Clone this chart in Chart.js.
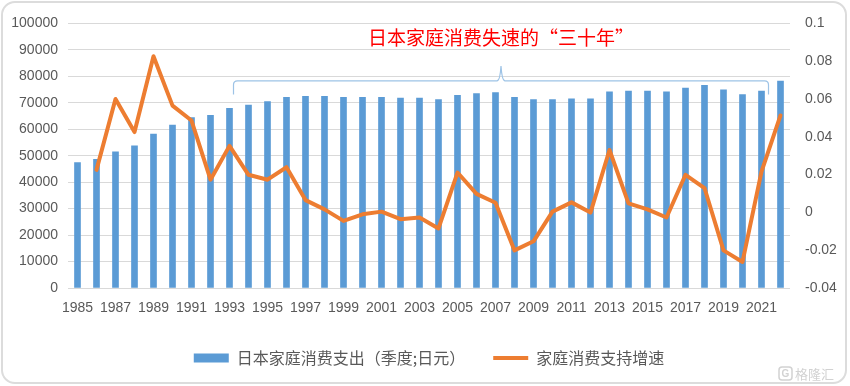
<!DOCTYPE html>
<html><head><meta charset="utf-8">
<script src="https://cdn.jsdelivr.net/npm/chart.js@4"></script>
<style>
html,body{margin:0;padding:0;background:#fff;}
#wrap{position:relative;width:850px;height:386px;overflow:hidden;}
#card{position:absolute;left:1px;top:1px;width:842px;height:379px;border:2px solid #dcdcdc;border-radius:14px;pointer-events:none;}
canvas{position:absolute;left:0;top:0;}
</style></head>
<body>
<div id="wrap"><canvas id="c" width="850" height="386"></canvas><div id="card"></div></div>
<script>
const years = [1985,1986,1987,1988,1989,1990,1991,1992,1993,1994,1995,1996,1997,1998,1999,2000,2001,2002,2003,2004,2005,2006,2007,2008,2009,2010,2011,2012,2013,2014,2015,2016,2017,2018,2019,2020,2021,2022];
const spending = [47400,48600,51500,53700,58200,61600,64400,65300,67900,69100,70500,72100,72400,72400,72100,72100,72100,71800,71800,71200,72800,73500,73900,72100,71200,71200,71500,71500,74100,74400,74400,74100,75600,76600,74900,73100,74400,78200];
const growth = [null,0.0225,0.060,0.0425,0.0826,0.0565,0.0486,0.0173,0.0352,0.0199,0.0173,0.0239,0.0065,0.0016,-0.0045,-0.001,0.0004,-0.0036,-0.0027,-0.0085,0.0211,0.0098,0.0051,-0.0201,-0.0153,0.0004,0.0053,-0.0001,0.033,0.0048,0.0016,-0.0027,0.0199,0.0129,-0.0201,-0.0262,0.0216,0.0513];
const seriesNames = ['日本家庭消费支出（季度;日元）','家庭消费支持增速'];
const annotationText = '日本家庭消费失速的“三十年”';
const bracketFrom = 1993, bracketTo = 2021;

const TICK = '#595959';
const tickFont = {family:'"Liberation Sans", Arial, sans-serif', size:14};
const LEGEND_PAD = 28, LEGEND_H = 60;

const legendFix = {
  id:'legendFix',
  beforeLayout(chart){
    const lg = chart.legend;
    if (lg && !lg._patched) {
      const f = lg.fit;
      lg.fit = function(){ f.call(this); this.height = LEGEND_H; };
      lg._patched = true;
    }
  }
};

const overlay = {
  id:'overlay',
  afterDatasetsDraw(chart){
    const ctx = chart.ctx, xs = chart.scales.x, ys = chart.scales.y;
    const xl = xs.getPixelForValue(years.indexOf(bracketFrom)) + 4;
    const xr = xs.getPixelForValue(years.indexOf(bracketTo)) + 7;
    const yh = ys.getPixelForValue(78300), ye = ys.getPixelForValue(73100), yp = ys.getPixelForValue(83900);
    const xm = (xl + xr) / 2, r = 4;
    ctx.save();
    ctx.strokeStyle = '#9dc3e6'; ctx.lineWidth = 1.2;
    ctx.beginPath();
    ctx.moveTo(xl, ye);
    ctx.lineTo(xl, yh + r);
    ctx.quadraticCurveTo(xl, yh, xl + r, yh);
    ctx.lineTo(xm - 4, yh);
    ctx.quadraticCurveTo(xm - 1, yh, xm, yp);
    ctx.quadraticCurveTo(xm + 1, yh, xm + 4, yh);
    ctx.lineTo(xr - r, yh);
    ctx.quadraticCurveTo(xr, yh, xr, yh + r);
    ctx.lineTo(xr, ye);
    ctx.stroke();
    ctx.fillStyle = '#ff0000';
    ctx.font = '19px "Noto Sans CJK SC", sans-serif';
    ctx.textAlign = 'center'; ctx.textBaseline = 'middle';
    ctx.fillText(annotationText, xm, ys.getPixelForValue(94400));
    // watermark
    ctx.fillStyle = '#d2d2d2';
    ctx.font = '13px "Noto Sans CJK SC", sans-serif';
    ctx.textAlign = 'left';
    ctx.fillText('格隆汇', 795, 374);
    ctx.strokeStyle = '#d2d2d2'; ctx.lineWidth = 1.5;
    ctx.beginPath(); ctx.roundRect(779, 367, 13, 13, 3); ctx.stroke();
    ctx.font = 'bold 10px "Liberation Sans", sans-serif';
    ctx.textAlign = 'center';
    ctx.fillText('G', 785.5, 374);
    ctx.restore();
  }
};

new Chart(document.getElementById('c'), {
  data: {
    labels: years,
    datasets: [
      {type:'line', label: seriesNames[1], data: growth, yAxisID:'y1', borderColor:'#ed7d31', backgroundColor:'#ed7d31', borderWidth:4, pointRadius:0, tension:0, borderJoinStyle:'round', borderCapStyle:'round', order:1},
      {type:'bar', label: seriesNames[0], data: spending, yAxisID:'y', backgroundColor:'#5b9bd5', barThickness:6, order:2}
    ]
  },
  options: {
    responsive:false, animation:false, devicePixelRatio:1,
    layout:{padding:{top:19, bottom:4, left:8, right:0}},
    plugins:{
      tooltip:{enabled:false},
      legend:{
        position:'bottom',
        labels:{
          color:TICK, font:{family:'"Noto Sans CJK SC", sans-serif', size:16},
          usePointStyle:true, pointStyleWidth:35, boxHeight:9, padding:LEGEND_PAD,
          generateLabels(chart){
            return [
              {text:seriesNames[0], fillStyle:'#5b9bd5', strokeStyle:'#5b9bd5', lineWidth:0, pointStyle:'rect', fontColor:TICK, datasetIndex:1},
              {text:seriesNames[1], fillStyle:'#ed7d31', strokeStyle:'#ed7d31', lineWidth:4, pointStyle:'line', fontColor:TICK, datasetIndex:0}
            ];
          }
        }
      }
    },
    scales:{
      x:{
        grid:{display:false, drawTicks:false}, border:{display:false},
        ticks:{color:TICK, font:tickFont, autoSkip:false, maxRotation:0, padding:12,
          callback:(v,i)=> i%2===0 ? String(years[i]) : ''},
        afterFit(s){ s.height = 34; }
      },
      y:{
        position:'left', min:0, max:100000,
        grid:{color:'#d9d9d9', drawTicks:false}, border:{display:false},
        ticks:{color:TICK, font:tickFont, stepSize:10000, padding:10, callback:v=>String(v)},
        afterFit(s){ s.width = 60; }
      },
      y1:{
        position:'right', min:-0.04, max:0.1,
        grid:{display:false, drawTicks:false}, border:{display:false},
        ticks:{color:TICK, font:tickFont, stepSize:0.02, padding:15, callback:v=>String(+v.toFixed(2))},
        afterFit(s){ s.width = 60; }
      }
    }
  },
  plugins:[legendFix, overlay]
});
</script>
</body></html>
